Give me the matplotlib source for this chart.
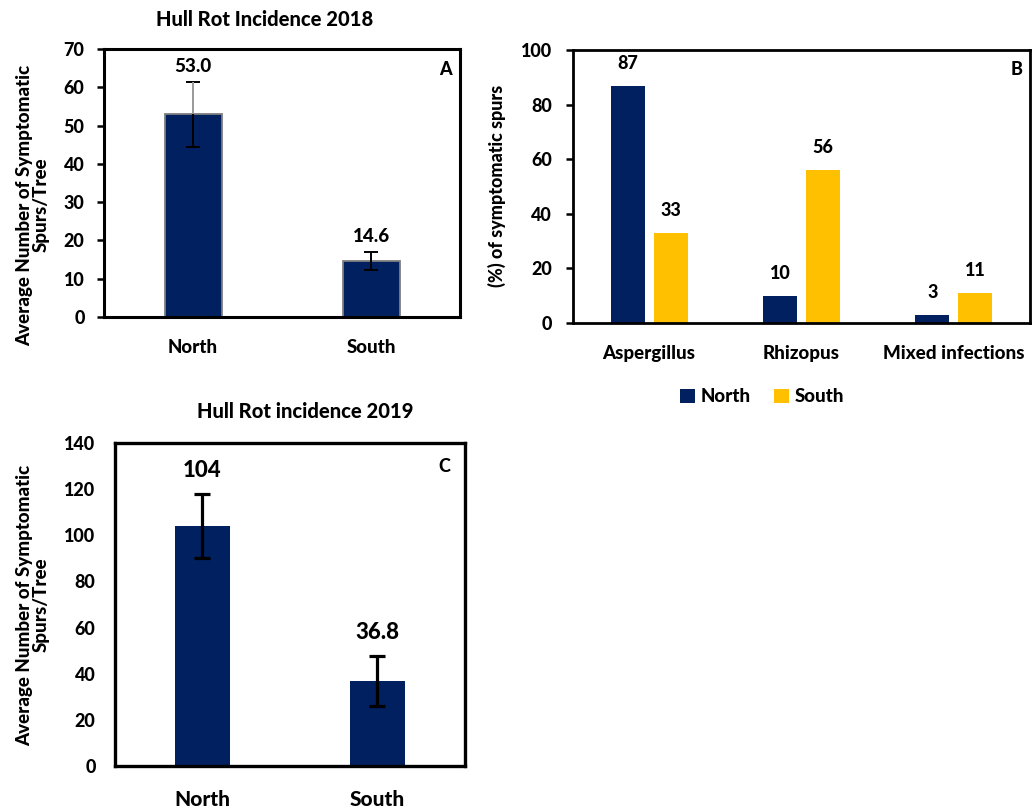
import matplotlib
matplotlib.use("Agg")
import matplotlib.pyplot as plt
import numpy as np

plt.rcParams['font.family'] = ['Lato', 'DejaVu Sans']
plt.rcParams['font.weight'] = 'black'
W = 'black'

NAVY = '#002060'
GOLD = '#FFC000'

# Hull rot 2018
regions = ['North', 'South']
mean_2018 = [53.0, 14.6]
err_2018 = [8.5, 2.3]

# Pathogen share of symptomatic spurs
pathogens = ['Aspergillus', 'Rhizopus', 'Mixed infections']
pct_north = [87, 10, 3]
pct_south = [33, 56, 11]

# Hull rot 2019
mean_2019 = [104, 36.8]
err_2019 = [14, 10.7]
labels_2019 = ['104', '36.8']

fig = plt.figure(figsize=(10.32, 8.08), dpi=100)

def box(ax, lw):
    for s in ax.spines.values():
        s.set_linewidth(lw)
        s.set_color('black')

# ---- panel A ----
axA = fig.add_axes([0.1008, 0.6077, 0.345, 0.3317])
x = np.arange(len(regions))
axA.bar(x, mean_2018, width=0.32, color=NAVY, edgecolor='#7f7f7f', linewidth=1.3, zorder=2)
axA.errorbar(x, mean_2018, yerr=err_2018, fmt='none', ecolor='black',
             elinewidth=1.4, capsize=5, capthick=1.4, zorder=3)
# upper whisker of the north bar is drawn in grey
axA.vlines(x[0], mean_2018[0], mean_2018[0] + err_2018[0], color='#a0a0a0', lw=1.4, zorder=3)
for xi, m, e in zip(x, mean_2018, err_2018):
    axA.annotate(f'{m:.1f}', (xi, m + e), xytext=(0, 11), textcoords='offset points',
                 ha='center', va='center', fontsize=13.5, fontweight=W)
axA.set_xlim(-0.5, 1.5)
axA.set_ylim(0, 70)
axA.set_yticks(range(0, 71, 10))
axA.set_xticks(x)
axA.set_xticklabels(regions)
axA.tick_params(axis='y', length=5, width=1.8, pad=9, labelsize=13)
axA.tick_params(axis='x', length=0, pad=16, labelsize=13.5)
box(axA, 2.2)
axA.text(0.958, 0.925, 'A', transform=axA.transAxes, ha='center', va='center',
         fontsize=13, fontweight=W)
fig.text(265 / 1032, 1 - 20 / 808, 'Hull Rot Incidence 2018', ha='center', va='center',
         fontsize=14.5, fontweight=W)
fig.text(33 / 1032, 1 - 205 / 808, 'Average Number of Symptomatic\nSpurs/Tree',
         rotation=90, ha='center', va='center', fontsize=13.5, fontweight=W,
         linespacing=1.0)

# ---- panel B ----
axB = fig.add_axes([0.5552, 0.6002, 0.4428, 0.3379])
g = np.arange(len(pathogens))
w = 0.223
off = 0.141
bn = axB.bar(g - off, pct_north, width=w, color=NAVY, label='North', zorder=2)
bs = axB.bar(g + off, pct_south, width=w, color=GOLD, label='South', zorder=2)
for xs, vals in ((g - off, pct_north), (g + off, pct_south)):
    for xi, v in zip(xs, vals):
        axB.annotate(f'{v}', (xi, v), xytext=(0, 16), textcoords='offset points',
                     ha='center', va='center', fontsize=13, fontweight=W)
axB.set_xlim(-0.5, 2.5)
axB.set_ylim(0, 100)
axB.set_yticks(range(0, 101, 20))
axB.set_xticks(g)
axB.set_xticklabels(pathogens)
axB.tick_params(axis='y', length=5, width=1.8, pad=10, labelsize=13)
axB.tick_params(axis='x', length=0, pad=16, labelsize=13.5)
box(axB, 2.0)
axB.text(0.971, 0.93, 'B', transform=axB.transAxes, ha='center', va='center',
         fontsize=13, fontweight=W)
fig.text(497 / 1032, 1 - 186 / 808, '(%) of symptomatic spurs', rotation=90,
         ha='center', va='center', fontsize=13, fontweight=W)
fig.legend(handles=[bn, bs], loc='center', bbox_to_anchor=(762 / 1032, 1 - 397 / 808),
           ncol=2, frameon=False, prop={'size': 13.5, 'weight': W},
           handlelength=0.8, handleheight=0.8, handletextpad=0.3, columnspacing=1.2)

# ---- panel C ----
axC = fig.add_axes([0.1114, 0.052, 0.3391, 0.3998])
axC.bar(x, mean_2019, width=0.31, color=NAVY, zorder=2)
axC.errorbar(x, mean_2019, yerr=err_2019, fmt='none', ecolor='black',
             elinewidth=2.3, capsize=6, capthick=2.3, zorder=3)
for xi, m, e, t in zip(x, mean_2019, err_2019, labels_2019):
    axC.annotate(t, (xi, m + e), xytext=(0, 17), textcoords='offset points',
                 ha='center', va='center', fontsize=16, fontweight=W)
axC.set_xlim(-0.5, 1.5)
axC.set_ylim(0, 140)
axC.set_yticks(range(0, 141, 20))
axC.set_xticks(x)
axC.set_xticklabels(regions)
axC.tick_params(axis='y', length=0, pad=14, labelsize=13)
axC.tick_params(axis='x', length=0, pad=17, labelsize=15)
box(axC, 2.4)
axC.text(0.94, 0.926, 'C', transform=axC.transAxes, ha='center', va='center',
         fontsize=13, fontweight=W)
fig.text(305 / 1032, 1 - 412 / 808, 'Hull Rot incidence 2019', ha='center', va='center',
         fontsize=14.5, fontweight=W)
fig.text(33 / 1032, 1 - 605 / 808, 'Average Number of Symptomatic\nSpurs/Tree',
         rotation=90, ha='center', va='center', fontsize=13.5, fontweight=W,
         linespacing=1.0)

fig.savefig('out.png', dpi=100)
